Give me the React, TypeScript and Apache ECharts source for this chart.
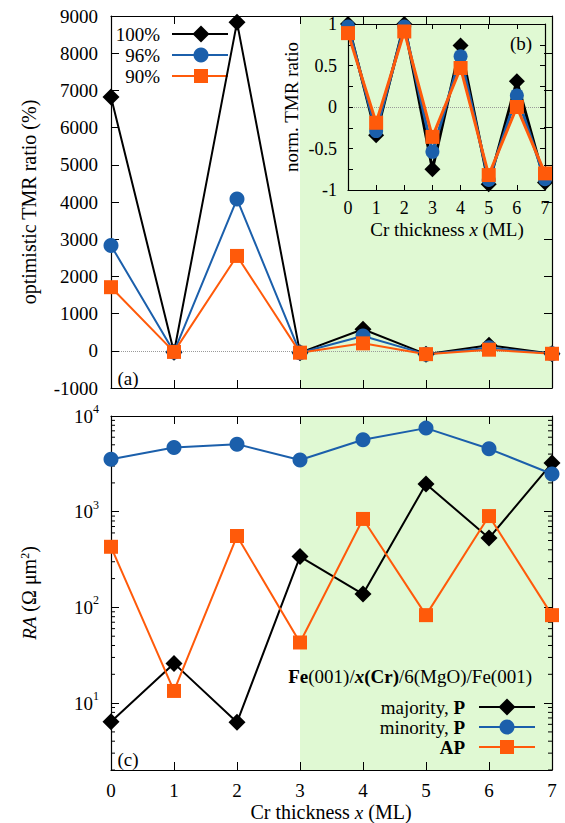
import React, { useEffect, useRef } from 'react';
import * as echarts from 'echarts';

// ---------- data ----------
const thickness = [0, 1, 2, 3, 4, 5, 6, 7];

const tmrNames = ['100%', '96%', '90%'];
const tmr100 = [6820, -40, 8830, -50, 580, -90, 150, -80];
const tmr96 = [2830, -30, 4080, -50, 400, -90, 80, -80];
const tmr90 = [1710, -30, 2550, -50, 200, -90, 30, -80];

const norm100 = [1.0, -0.34, 1.0, -0.75, 0.74, -0.93, 0.31, -0.91];
const norm96 = [0.97, -0.29, 0.97, -0.54, 0.61, -0.88, 0.14, -0.87];
const norm90 = [0.89, -0.19, 0.91, -0.36, 0.47, -0.82, 0.0, -0.8];

const raNames = ['majority, P', 'minority, P', 'AP'];
const raMajorityP = [6.4, 26, 6.3, 340, 138, 1950, 530, 3220];
const raMinorityP = [3540, 4680, 5080, 3470, 5640, 7470, 4540, 2480];
const raAP = [430, 13.4, 557, 43, 840, 83, 900, 83];

const shadedRange = [3, 7];

// ---------- styles ----------
const BLACK = '#000000';
const BLUE = '#1b5fab';
const ORANGE = '#ff5a0a';
const GREEN = '#e0f9d3';
const FONT = "'Liberation Serif', 'Times New Roman', serif";

const pairs = (ys: number[]) => thickness.map((x, i) => [x, ys[i]]);

const lineSeries = (
  name: string,
  ys: number[],
  color: string,
  symbol: string,
  size: number,
  axis: number,
  width: number,
  extra: any = {}
) => ({
  type: 'line',
  name,
  data: pairs(ys),
  xAxisIndex: axis,
  yAxisIndex: axis,
  symbol,
  symbolSize: size,
  lineStyle: { color, width },
  itemStyle: { color },
  emphasis: { disabled: true },
  silent: true,
  z: 3,
  ...extra,
});

const axisLine = { show: true, onZero: false, lineStyle: { color: BLACK, width: 1.2 } };
const tickIn = (len: number) => ({ show: true, inside: true, length: len, lineStyle: { color: BLACK, width: 1 } });
const noSplit = { show: false };

const xAx = (grid: number, position: string, tickLen: number, label: any) => ({
  gridIndex: grid,
  type: 'value',
  min: 0,
  max: 7,
  interval: 1,
  position,
  axisLine,
  axisTick: tickIn(tickLen),
  splitLine: noSplit,
  axisLabel: label,
  z: 1,
});

const supDigits = (v: number) => Math.round(Math.log10(v));

export default function App() {
  const ref = useRef<HTMLDivElement>(null);

  useEffect(() => {
    if (!ref.current) return;
    const chart = echarts.init(ref.current, undefined, { renderer: 'svg' });

    const minorTicks: number[] = [];
    for (let k = 0; k < 4; k++) {
      for (let m = 2; m <= 9; m++) {
        const v = m * Math.pow(10, k);
        if (v >= 2 && v < 10000) minorTicks.push(v);
      }
    }

    const markArea = {
      silent: true,
      z: -1,
      itemStyle: { color: GREEN, borderWidth: 0 },
      data: [[{ xAxis: shadedRange[0] }, { xAxis: shadedRange[1] }]],
    };
    const zeroLine = {
      silent: true,
      z: 1,
      symbol: ['none', 'none'],
      label: { show: false },
      lineStyle: { color: '#9a9a9a', type: 'dotted', width: 1 },
      data: [{ yAxis: 0 }],
    };

    const labelStyle = (size: number, margin: number) => ({
      show: true,
      fontFamily: FONT,
      fontSize: size,
      color: BLACK,
      margin,
      formatter: (v: number) => String(v),
    });

    const rich = {
      b: { fontFamily: FONT, fontSize: 19, color: BLACK, fontWeight: 'bold' },
      bi: { fontFamily: FONT, fontSize: 19, color: BLACK, fontWeight: 'bold', fontStyle: 'italic' },
      i: { fontFamily: FONT, fontSize: 19, color: BLACK, fontStyle: 'italic' },
      s: { fontFamily: FONT, fontSize: 12, color: BLACK, verticalAlign: 'top', lineHeight: 12 },
      n: { fontFamily: FONT, fontSize: 19, color: BLACK },
    };

    const markerShape = (symbol: string, cx: number, cy: number, color: string) => {
      if (symbol === 'diamond') {
        return { type: 'polygon', shape: { points: [[cx, cy - 8.5], [cx + 8.5, cy], [cx, cy + 8.5], [cx - 8.5, cy]] }, style: { fill: color } };
      }
      if (symbol === 'circle') {
        return { type: 'circle', shape: { cx, cy, r: 7.5 }, style: { fill: color } };
      }
      return { type: 'rect', shape: { x: cx - 7, y: cy - 7, width: 14, height: 14 }, style: { fill: color } };
    };

    const legendRow = (text: string, tx: number, y: number, lx1: number, lx2: number, mx: number, color: string, symbol: string) => [
      {
        type: 'text',
        x: tx,
        y,
        style: { text, rich, fontFamily: FONT, fontSize: 19, fill: BLACK, align: 'right', verticalAlign: 'middle' },
      },
      { type: 'line', shape: { x1: lx1, y1: y, x2: lx2, y2: y }, style: { stroke: color, lineWidth: 2 } },
      markerShape(symbol, mx, y, color),
    ];

    const colors = [BLACK, BLUE, ORANGE];
    const symbols = ['diamond', 'circle', 'rect'];
    const topRowsY = [34, 55, 76];
    const botRowsY = [707, 727, 747];
    const botTexts = ['majority, {b|P}', 'minority, {b|P}', '{b|AP}'];

    const graphics: any[] = [];
    tmrNames.forEach((n, i) => graphics.push(...legendRow(n, 160, topRowsY[i], 172, 228, 201, colors[i], symbols[i])));
    raNames.forEach((n, i) => graphics.push(...legendRow(botTexts[i], 465, botRowsY[i], 479, 535, 507, colors[i], symbols[i])));

    const txt = (text: string, x: number, y: number, size: number, rot = 0, align = 'center') => ({
      type: 'text',
      x,
      y,
      rotation: rot,
      style: { text, rich, fontFamily: FONT, fontSize: size, fill: BLACK, align, verticalAlign: 'middle' },
    });

    graphics.push(
      txt('optimistic TMR ratio (%)', 29, 202, 20, Math.PI / 2),
      txt('{i|RA} (Ω μm{s|2})', 29, 593, 20, Math.PI / 2),
      txt('norm. TMR ratio', 291, 107, 19, Math.PI / 2),
      txt('Cr thickness {i|x} (ML)', 331, 812, 20),
      txt('Cr thickness {i|x} (ML)', 447, 229, 19),
      txt('(a)', 128, 378, 19),
      txt('(b)', 521, 43, 19),
      txt('(c)', 128, 759, 19),
      txt('{b|Fe}(001)/{bi|x}{b|(Cr)}/6(MgO)/Fe(001)', 532, 676, 19, 0, 'right')
    );

    const option: any = {
      animation: false,
      backgroundColor: '#ffffff',
      grid: [
        { left: 111, top: 16, width: 441, height: 372, containLabel: false },
        { left: 348, top: 24, width: 197, height: 166, containLabel: false },
        { left: 111, top: 416, width: 441, height: 354, containLabel: false },
      ],
      xAxis: [
        xAx(0, 'bottom', 8, { show: false }),
        xAx(0, 'top', 8, { show: false }),
        xAx(1, 'bottom', 5, labelStyle(18, 9)),
        xAx(1, 'top', 5, { show: false }),
        xAx(2, 'bottom', 8, labelStyle(19, 11)),
        xAx(2, 'top', 8, { show: false }),
      ],
      yAxis: [
        {
          gridIndex: 0, type: 'value', min: -1000, max: 9000, interval: 1000, position: 'left',
          axisLine, axisTick: tickIn(8), splitLine: noSplit, axisLabel: labelStyle(19, 13), z: 1,
        },
        {
          gridIndex: 0, type: 'value', min: -1000, max: 9000, interval: 1000, position: 'right',
          axisLine, axisTick: tickIn(8), splitLine: noSplit, axisLabel: { show: false }, z: 1,
        },
        {
          gridIndex: 1, type: 'value', min: -1, max: 1, interval: 0.25, position: 'left',
          axisLine, axisTick: tickIn(5), splitLine: noSplit, z: 1,
          axisLabel: {
            ...labelStyle(18, 11),
            formatter: (v: number) => (Math.abs(v * 2 - Math.round(v * 2)) < 1e-9 ? String(v) : ''),
          },
        },
        {
          gridIndex: 1, type: 'value', min: -1, max: 1, interval: 0.25, position: 'right',
          axisLine, axisTick: tickIn(5), splitLine: noSplit, axisLabel: { show: false }, z: 1,
        },
        {
          gridIndex: 2, type: 'log', logBase: 10, min: 2, max: 10000, position: 'left',
          axisLine, axisTick: tickIn(8), splitLine: noSplit, z: 1,
          axisLabel: {
            show: true,
            margin: 12,
            formatter: (v: number) => {
              const e = Math.log10(v);
              if (Math.abs(e - Math.round(e)) > 1e-6) return '';
              return `{n|10}{s|${supDigits(v)}}`;
            },
            rich: {
              n: { fontFamily: FONT, fontSize: 19, color: BLACK, lineHeight: 26 },
              s: { fontFamily: FONT, fontSize: 12, color: BLACK, verticalAlign: 'top', lineHeight: 14 },
            },
          },
        },
        {
          gridIndex: 2, type: 'log', logBase: 10, min: 2, max: 10000, position: 'right',
          axisLine, axisTick: tickIn(8), splitLine: noSplit, axisLabel: { show: false }, z: 1,
        },
      ],
      series: [
        lineSeries(tmrNames[0], tmr100, BLACK, 'diamond', 17, 0, 2, { markArea, markLine: zeroLine }),
        lineSeries(tmrNames[1], tmr96, BLUE, 'circle', 15, 0, 2),
        lineSeries(tmrNames[2], tmr90, ORANGE, 'rect', 14, 0, 2),
        lineSeries('n' + tmrNames[0], norm100, BLACK, 'diamond', 16, 2, 3, { markLine: zeroLine, z: 4 }),
        lineSeries('n' + tmrNames[1], norm96, BLUE, 'circle', 14, 2, 3, { z: 4 }),
        lineSeries('n' + tmrNames[2], norm90, ORANGE, 'rect', 14, 2, 3, { z: 4 }),
        lineSeries(raNames[0], raMajorityP, BLACK, 'diamond', 17, 4, 2, { markArea }),
        lineSeries(raNames[1], raMinorityP, BLUE, 'circle', 15, 4, 2),
        lineSeries(raNames[2], raAP, ORANGE, 'rect', 14, 4, 2),
        {
          type: 'custom',
          xAxisIndex: 4,
          yAxisIndex: 4,
          silent: true,
          z: 2,
          data: minorTicks.map((v) => [0, v]),
          renderItem: (params: any, api: any) => {
            const p = api.coord([0, api.value(1)]);
            const cs = params.coordSys;
            return {
              type: 'group',
              children: [
                { type: 'line', shape: { x1: cs.x, y1: p[1], x2: cs.x + 4, y2: p[1] }, style: { stroke: BLACK, lineWidth: 1 } },
                { type: 'line', shape: { x1: cs.x + cs.width - 4, y1: p[1], x2: cs.x + cs.width, y2: p[1] }, style: { stroke: BLACK, lineWidth: 1 } },
              ],
            };
          },
        },
      ],
      graphic: { elements: graphics },
    };

    chart.setOption(option);
    return () => chart.dispose();
  }, []);

  return <div ref={ref} style={{ position: 'absolute', left: 0, top: 0, width: 565, height: 823 }} />;
}
